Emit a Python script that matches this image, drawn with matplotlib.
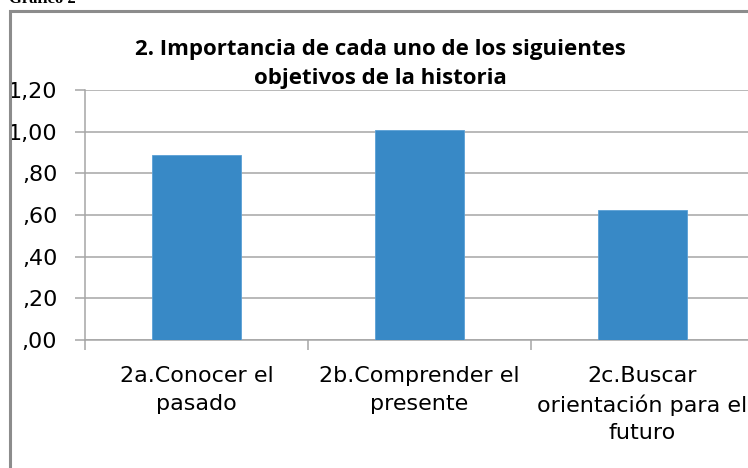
import matplotlib
matplotlib.use("Agg")
import matplotlib.pyplot as plt
from matplotlib.patches import Rectangle
from matplotlib import font_manager

categories = ["2a.Conocer el\npasado", "2b.Comprender el\npresente", "2c.Buscar\norientación para el\nfuturo"]
values = [0.887, 1.008, 0.625]
yticks = [0.0, 0.2, 0.4, 0.6, 0.8, 1.0, 1.2]
ytick_labels = [",00", ",20", ",40", ",60", ",80", "1,00", "1,20"]
title = "2. Importancia de cada uno de los siguientes\nobjetivos de la historia"

names = {f.name for f in font_manager.fontManager.ttflist}
narrow = "Liberation Sans Narrow" if "Liberation Sans Narrow" in names else "DejaVu Sans"
plt.rcParams['font.family'] = [narrow, "DejaVu Sans"]

W, H = 748, 468
fig = plt.figure(figsize=(W / 100, H / 100), dpi=100)
ax = fig.add_axes([85 / W, 1 - 340 / H, 669 / W, 250 / H])

x = list(range(len(categories)))
ax.bar(x, values, width=0.395, color="#3889c6", edgecolor="#5aa0d6", linewidth=0.6, zorder=3)

ax.set_xlim(-0.5, 2.5)
ax.set_ylim(0, 1.2)
ax.set_yticks(yticks)
ax.set_yticklabels(ytick_labels, fontsize=16)
ax.yaxis.grid(True, color="#a6a6a6", linewidth=1.1, zorder=0)

ax.set_xticks(x)
ax.set_xticklabels(categories, fontsize=16, linespacing=1.45)
ax.tick_params(axis='x', length=0, pad=19)
ax.set_xticks([-0.5, 0.5, 1.5, 2.5], minor=True)
ax.tick_params(axis='x', which='minor', length=7, color="#a6a6a6", width=1.1)
ax.tick_params(axis='y', length=7, color="#a6a6a6", width=1.1, pad=13)

for s in ['top', 'right']:
    ax.spines[s].set_visible(False)
ax.spines['left'].set_color("#a6a6a6")
ax.spines['bottom'].set_color("#a6a6a6")
ax.spines['left'].set_linewidth(1.1)
ax.spines['bottom'].set_linewidth(1.1)

fig.text(380 / W, 1 - 64 / H, title, ha='center', va='center', fontsize=16,
         fontweight='bold', family=["Open Sans", "DejaVu Sans"], linespacing=1.55)

# chart frame (cut off on right and bottom)
fig.patches.append(Rectangle((10 / W, -0.1), 1.2, 1 - 11 / H + 0.1, transform=fig.transFigure,
                             fill=False, edgecolor="#8c8c8c", linewidth=2.2))

# cropped caption above the frame
fig.text(76 / W, 1 - 3 / H, "Gráfico 2", ha='right', va='baseline', fontsize=12,
         fontweight='bold', family=["Liberation Serif", "DejaVu Serif"])

fig.savefig("out.png", dpi=100)
